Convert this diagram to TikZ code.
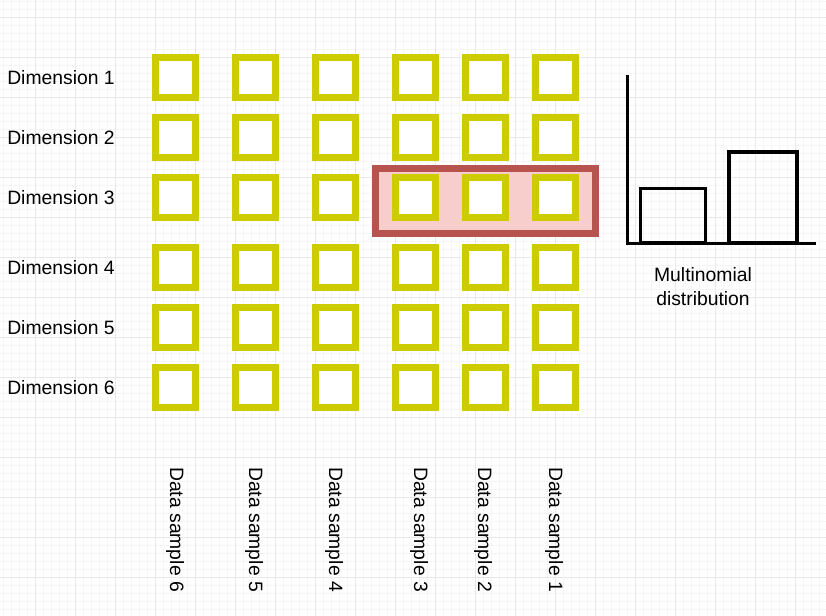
\documentclass[tikz,border=0pt]{standalone}
\usepackage{fontspec}
\setmainfont{Liberation Sans}
\definecolor{sqyellow}{HTML}{CCCC00}
\definecolor{redstroke}{HTML}{B85450}
\definecolor{redfill}{HTML}{F8CECC}
\definecolor{gridmajor}{HTML}{E8E8E8}
\definecolor{gridminor}{HTML}{F5F5F5}
\begin{document}
\begin{tikzpicture}[x=0.75pt,y=-0.75pt,
  txt/.style={inner sep=0pt,font=\fontsize{14.5}{18}\selectfont},
  sq/.style={draw=sqyellow,fill=white,line width=5.25pt,minimum size=30pt,inner sep=0pt},
  redbox/.style={draw=redstroke,fill=redfill,line width=5.25pt,minimum width=165pt,minimum height=48.75pt,inner sep=0pt},
  minorgrid/.style={draw=gridminor,line width=0.75pt},
  majorgrid/.style={draw=gridmajor,line width=0.75pt},
  axis/.style={line width=2.5pt},
]
\useasboundingbox (0,0) rectangle (826,616);
\fill[white] (0,0) rectangle (826,616);
% grid
\foreach \x in {3,11,...,826} \draw[minorgrid] (\x,0) -- (\x,616);
\foreach \y in {2,10,...,616} \draw[minorgrid] (0,\y) -- (826,\y);
\foreach \x in {35,75,...,826} \draw[majorgrid] (\x,0) -- (\x,616);
\foreach \y in {18,58,...,616} \draw[majorgrid] (0,\y) -- (826,\y);
% selection box
\node[redbox] (sel) at (485.5,201) {};
% squares
\foreach \c/\x in {1/175.5,2/255.5,3/335.5,4/415.5,5/485.5,6/555.5}
  \foreach \r/\y in {1/78,2/138,3/198,4/268,5/328,6/388}
    \node[sq] (s\r\c) at (\x,\y) {};
% dimension labels
\foreach \r/\y in {1/78,2/138,3/198,4/268,5/328,6/388}
  \node[txt,anchor=west] (dim\r) at (7,\y) {Dimension \r};
% data sample labels
\foreach \n/\x in {6/175,5/254,4/334,3/419,2/483,1/554}
  \node[txt,rotate=-90,anchor=west] (ds\n) at (\x,467) {Data sample \n};
% histogram
\coordinate (ytop) at (627.2,75);
\coordinate (orig) at (627.2,243.7);
\coordinate (xend) at (816,243.7);
\draw[axis] (ytop) -- (orig) -- (xend);
\draw[line width=2.5pt] (640.7,243) rectangle (705.3,188.7);
\draw[line width=3.4pt] (729.2,243) rectangle (796.8,152.2);
\node[txt,align=center] (mlt) at (703,287) {Multinomial\\distribution};
\end{tikzpicture}
\end{document}
